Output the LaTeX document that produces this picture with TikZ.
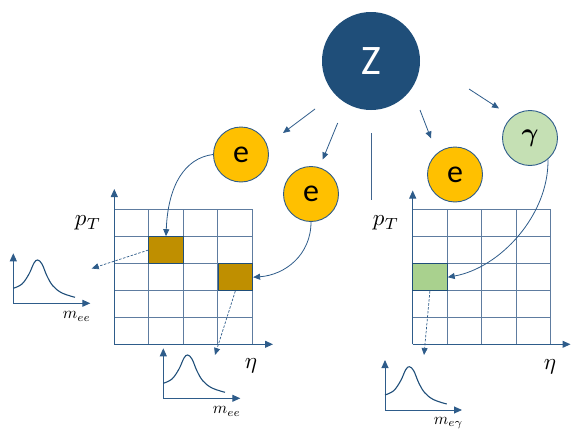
\documentclass[tikz,border=0pt]{standalone}
\usepackage{amsmath}
\usepackage{graphicx}
\usepackage{fontspec}
\setmainfont{Carlito}
\usetikzlibrary{arrows.meta}

\definecolor{zblue}{HTML}{1F4E79}
\definecolor{arrowblue}{HTML}{2E5C8A}
\definecolor{gridblue}{HTML}{41658F}
\definecolor{egold}{HTML}{FFC000}
\definecolor{cellgold}{HTML}{BF8F00}
\definecolor{gfill}{HTML}{C5E0B4}
\definecolor{cellgreen}{HTML}{A9D18E}

\newcommand{\bigmath}[2]{\scalebox{#1}{$#2$}}

\tikzset{
  tip/.style={-{Triangle[length=7pt,width=6pt]}},
  conn/.style={draw=arrowblue, line width=0.8pt, tip},
  dashconn/.style={draw=arrowblue, line width=0.7pt, dash pattern=on 2.5pt off 1.5pt, tip},
  axis/.style={draw=arrowblue, line width=1pt, -{Triangle[length=8pt,width=7pt]}},
  gridline/.style={draw=gridblue!85, line width=0.9pt},
  particle/.style={circle, draw=arrowblue, line width=0.9pt, minimum size=55pt, inner sep=0pt},
  elec/.style={particle, fill=egold, font=\fontsize{32}{32}\selectfont},
  phot/.style={particle, fill=gfill},
  binbox/.style={draw=zblue, line width=1.1pt, minimum width=34.5pt, minimum height=26.7pt, inner sep=0pt},
  pics/massplot/.style={code={
    \coordinate (-o) at (0,0);
    \coordinate (-ytop) at (0,-50);
    \coordinate (-xend) at (77,0);
    \draw[axis, line width=0.9pt] (-o) -- (-ytop);
    \draw[axis, line width=0.9pt] (-o) -- (-xend);
    \draw[draw=zblue, line width=1.1pt] plot[smooth, tension=0.6] coordinates
      {(0,-15) (8.7,-19.3) (15.7,-29.3) (20.7,-40.3) (24.4,-43.3) (28.7,-39.3)
       (33.7,-27.3) (39.7,-17.3) (48.7,-10.3) (61.7,-6)};
    \node (-lab) at (63.4,13) {\bigmath{1.65}{#1}};
  }}
}

\begin{document}
\begin{tikzpicture}[x=1pt, y=-1pt]
  \useasboundingbox (0,0) rectangle (571,431);

  % decaying boson and its products
  \node[circle, fill=zblue, minimum size=98pt, inner sep=0pt, text=white,
        font=\fontsize{42}{42}\selectfont] (Z) at (371,61) {Z};
  \node[elec] (e1) at (241,154.5) {e};
  \node[elec] (e2) at (311,194) {e};
  \node[elec] (e3) at (455,174.5) {e};
  \node[phot] (g) at (530,138) {\bigmath{2.6}{\boldsymbol{\gamma}}};

  % decay arrows
  \coordinate (a1s) at (315,109);   \coordinate (a1e) at (283,133);
  \coordinate (a2s) at (337.7,123); \coordinate (a2e) at (322.7,159.5);
  \coordinate (a3s) at (420,110);   \coordinate (a3e) at (431,138.5);
  \coordinate (a4s) at (469,89);    \coordinate (a4e) at (499,108.5);
  \draw[conn] (a1s) -- (a1e);
  \draw[conn] (a2s) -- (a2e);
  \draw[conn] (a3s) -- (a3e);
  \draw[conn] (a4s) -- (a4e);

  % separator
  \coordinate (sepT) at (371,133);
  \coordinate (sepB) at (371,200);
  \draw[draw=gridblue, line width=1pt] (sepT) -- (sepB);

  % binning grids (4 eta bins x 5 pT bins)
  \foreach \x in {0,...,4} {
    \draw[gridline] (114.3+34.5*\x,209) -- (114.3+34.5*\x,344.3);
    \draw[gridline] (412.7+34.5*\x,209) -- (412.7+34.5*\x,344.3);
  }
  \foreach \y in {0,...,5} {
    \draw[gridline] (114.3,209+27.06*\y) -- (252.3,209+27.06*\y);
    \draw[gridline] (412.7,209+27.06*\y) -- (550.7,209+27.06*\y);
  }

  % axes of the grids
  \coordinate (lo) at (114.3,344.3);
  \coordinate (ly) at (114.3,189);
  \coordinate (lx) at (273,344.3);
  \draw[axis] (lo) -- (ly);
  \draw[axis] (lo) -- (lx);
  \coordinate (ro) at (412.7,344.3);
  \coordinate (ry) at (412.7,190.5);
  \coordinate (rx) at (570.5,344.3);
  \draw[axis] (ro) -- (ry);
  \draw[axis] (ro) -- (rx);

  \node (lpt) at (88,223) {\bigmath{2.3}{p_T}};
  \node (leta) at (251,366) {\bigmath{2.3}{\eta}};
  \node (rpt) at (386,223) {\bigmath{2.3}{p_T}};
  \node (reta) at (550,367) {\bigmath{2.3}{\eta}};

  % selected bins
  \node[binbox, fill=cellgold] (cA) at (166,250.1) {};
  \node[binbox, fill=cellgold] (cB) at (235.3,277.2) {};
  \node[binbox, fill=cellgreen] (cG) at (429.9,277.2) {};

  % particles filled into bins
  \draw[conn] (e1.west) .. controls (185,158) and (168,185) .. (cA.north);
  \draw[conn] (e2.south) .. controls (311,255) and (285,275) .. (cB.east);
  \draw[conn] (g.-50) .. controls (549,215) and (500,268) .. (cG.east);

  % invariant mass distributions per bin
  \pic (pL) at (13.3,303.3) {massplot={m_{ee}}};
  \pic (pB) at (163.3,398.3) {massplot={m_{ee}}};
  \pic (pR) at (385,410) {massplot={m_{e\gamma}}};

  \coordinate (dA) at (91.7,268.5);
  \coordinate (dB) at (215,355);
  \coordinate (dG) at (424,355);
  \draw[dashconn] (cA.west) -- (dA);
  \draw[dashconn] (cB.south) -- (dB);
  \draw[dashconn] (cG.south) -- (dG);
\end{tikzpicture}
\end{document}
